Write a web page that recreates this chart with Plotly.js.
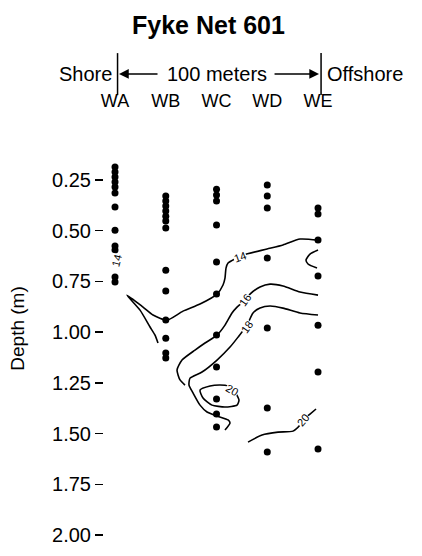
<!DOCTYPE html>
<html>
<head>
<meta charset="utf-8">
<script src="https://cdn.plot.ly/plotly-3.0.1.min.js"></script>
<style>html,body{margin:0;padding:0;background:#fff;}#chart{width:422px;height:556px;}</style>
</head>
<body>
<div id="chart"></div>
<script>
// ---- Data ----
const categories = ['WA', 'WB', 'WC', 'WD', 'WE'];
const depthTicks = [0.25, 0.50, 0.75, 1.00, 1.25, 1.50, 1.75, 2.00];
const depthTickLabels = ['0.25', '0.50', '0.75', '1.00', '1.25', '1.50', '1.75', '2.00'];

// sample depths (m) at each station
const depthWA = [0.187, 0.212, 0.236, 0.261, 0.286, 0.315, 0.384, 0.498, 0.576, 0.596, 0.729, 0.754];
const depthWB = [0.330, 0.355, 0.379, 0.404, 0.429, 0.453, 0.488, 0.695, 0.798, 0.941, 1.030, 1.103, 1.128];
const depthWC = [0.296, 0.325, 0.355, 0.473, 0.655, 0.813, 1.015, 1.172, 1.330, 1.404, 1.468];
const depthWD = [0.276, 0.330, 0.389, 0.635, 0.980, 1.374, 1.591];
const depthWE = [0.389, 0.419, 0.547, 0.724, 0.966, 1.197, 1.576];

// hand-drawn isolines: x = station position (WA=0 ... WE=4), y = depth (m)
const c14x = [4.00, 3.645, 3.310, 2.995, 2.522, 2.227, 2.187, 2.167, 2.128, 2.010, 1.675, 1.340, 1.025, 0.749, 0.552, 0.236, 0.493, 0.690, 0.788, 0.847];
const c14y = [0.547, 0.542, 0.571, 0.591, 0.621, 0.660, 0.685, 0.734, 0.768, 0.813, 0.862, 0.897, 0.941, 0.916, 0.877, 0.818, 0.892, 0.975, 1.015, 1.054];
const c14bx = [4.00, 3.842, 3.764, 3.803, 3.980];
const c14by = [0.596, 0.616, 0.645, 0.665, 0.685];
const c16x = [4.00, 3.645, 3.310, 3.054, 2.857, 2.660, 2.562, 2.404, 2.305, 2.167, 2.010, 1.773, 1.576, 1.320, 1.222, 1.281, 1.379];
const c16y = [0.818, 0.803, 0.773, 0.764, 0.778, 0.813, 0.842, 0.877, 0.906, 0.966, 1.015, 1.054, 1.089, 1.138, 1.187, 1.236, 1.261];
const c18x = [4.00, 3.645, 3.310, 3.054, 2.857, 2.719, 2.601, 2.424, 2.266, 2.010, 1.714, 1.478, 1.458, 1.537, 1.675, 1.813, 2.010, 2.227, 2.266, 2.167];
const c18y = [0.916, 0.906, 0.882, 0.872, 0.882, 0.906, 0.966, 1.025, 1.074, 1.138, 1.197, 1.227, 1.261, 1.300, 1.360, 1.394, 1.414, 1.433, 1.448, 1.483];
const c20ax = [1.675, 1.872, 2.069, 2.227, 2.365, 2.443, 2.404, 2.167, 1.911, 1.734, 1.675];
const c20ay = [1.286, 1.266, 1.261, 1.266, 1.296, 1.335, 1.360, 1.369, 1.360, 1.325, 1.286];
const c20bx = [2.621, 2.897, 3.212, 3.507, 3.645, 3.704, 3.842, 3.961];
const c20by = [1.542, 1.507, 1.493, 1.488, 1.458, 1.433, 1.404, 1.379];

// isoline labels
const labelText = ['14', '16', '18', '20', '20', '14'];
const labelX = [2.463, 2.562, 2.601, 2.305, 3.704, 0.03];
const labelY = [0.631, 0.842, 0.975, 1.286, 1.433, 0.650];
const labelAngle = [-20, -55, -55, 30, -50, -75];

// ---- Build traces ----
const stationDepths = [depthWA, depthWB, depthWC, depthWD, depthWE];
const ptX = [], ptY = [];
stationDepths.forEach((arr, i) => arr.forEach(d => { ptX.push(i); ptY.push(d); }));

const lineStyle = {color: '#000', width: 1.6, shape: 'spline', smoothing: 0.6};
const lines = [[c14x, c14y], [c14bx, c14by], [c16x, c16y], [c18x, c18y], [c20ax, c20ay], [c20bx, c20by]];
const traces = lines.map(([x, y]) => ({
  type: 'scatter', mode: 'lines', x: x, y: y, line: lineStyle, hoverinfo: 'skip', showlegend: false
}));
traces.push({
  type: 'scatter', mode: 'markers', x: ptX, y: ptY,
  marker: {color: '#000', size: 7}, showlegend: false
});

const FONT = 'Liberation Sans, Arial, Helvetica, sans-serif';

const annotations = labelText.map((t, i) => ({
  x: labelX[i], y: labelY[i], xref: 'x', yref: 'y', text: t, showarrow: false,
  textangle: labelAngle[i], bgcolor: '#fff', borderpad: 0,
  font: {family: FONT, size: 11, color: '#000'}
}));

const hdrY = 1.0878;
annotations.push(
  {x: -0.02, y: hdrY, xref: 'x', yref: 'paper', text: 'Shore', showarrow: false, xanchor: 'right', yanchor: 'middle', font: {family: FONT, size: 20, color: '#000'}},
  {x: 2.0, y: hdrY, xref: 'x', yref: 'paper', text: '100 meters', showarrow: false, xanchor: 'center', yanchor: 'middle', font: {family: FONT, size: 20, color: '#000'}},
  {x: 4.14, y: hdrY, xref: 'x', yref: 'paper', text: 'Offshore', showarrow: false, xanchor: 'left', yanchor: 'middle', font: {family: FONT, size: 20, color: '#000'}},
  {x: 0.079, y: hdrY, xref: 'x', yref: 'paper', text: '', showarrow: true, ax: 40, ay: 0, arrowhead: 2, arrowsize: 1.3, arrowwidth: 1.5, arrowcolor: '#000', standoff: 0, startstandoff: 0},
  {x: 4.02, y: hdrY, xref: 'x', yref: 'paper', text: '', showarrow: true, ax: -46, ay: 0, arrowhead: 2, arrowsize: 1.3, arrowwidth: 1.5, arrowcolor: '#000', standoff: 0, startstandoff: 0}
);

const shapes = [
  {type: 'line', xref: 'x', yref: 'paper', x0: 0.05, x1: 0.05, y0: 1.039, y1: 1.136, line: {color: '#000', width: 1.5}},
  {type: 'line', xref: 'x', yref: 'paper', x0: 4.06, x1: 4.06, y0: 1.039, y1: 1.136, line: {color: '#000', width: 1.5}}
];

const layout = {
  width: 422, height: 556,
  margin: {l: 104, r: 92, t: 112, b: 11},
  paper_bgcolor: '#fff', plot_bgcolor: '#fff',
  font: {family: FONT, color: '#000'},
  title: {text: '<b>Fyke Net 601</b>', x: 0.494, xref: 'container', xanchor: 'center', y: 0.955, yref: 'container', yanchor: 'middle', font: {family: FONT, size: 25, color: '#000'}},
  xaxis: {
    range: [-0.217, 4.236], side: 'top', tickmode: 'array', tickvals: [0, 1, 2, 3, 4], ticktext: categories,
    showline: false, showgrid: false, zeroline: false, ticks: '', tickfont: {family: FONT, size: 18, color: '#000'}
  },
  yaxis: {
    range: [2.049, -0.084], tickmode: 'array', tickvals: depthTicks, ticktext: depthTickLabels,
    showline: false, showgrid: false, zeroline: false, ticks: 'outside', ticklen: 8, tickwidth: 1.5, tickcolor: '#000',
    tickfont: {family: FONT, size: 20, color: '#000'},
    title: {text: 'Depth (m)', standoff: 22, font: {family: FONT, size: 19, color: '#000'}}
  },
  shapes: shapes,
  annotations: annotations,
  showlegend: false
};

Plotly.newPlot('chart', traces, layout, {displayModeBar: false, staticPlot: true});
</script>
</body>
</html>
